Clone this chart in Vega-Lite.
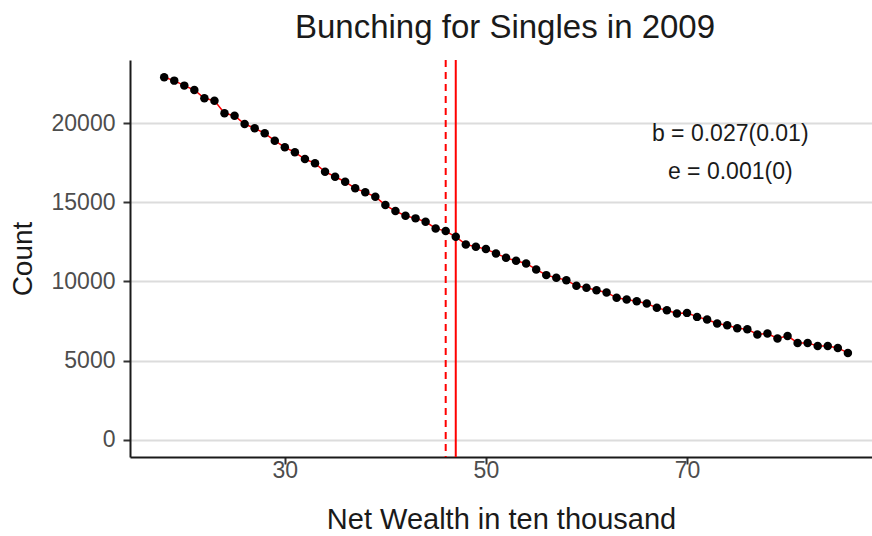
{
  "$schema": "https://vega.github.io/schema/vega-lite/v6.json",
  "width": 742,
  "height": 397,
  "autosize": "none",
  "padding": {"left": 130, "top": 60, "right": 0, "bottom": 79},
  "background": "white",
  "title": {"text": "Bunching for Singles in 2009", "fontSize": 33, "font": "Liberation Sans", "fontWeight": "normal", "color": "#1a1a1a", "anchor": "middle", "offset": 14, "dx": 4},
  "config": {
    "view": {"stroke": null},
    "axis": {
      "labelFont": "Liberation Sans", "titleFont": "Liberation Sans",
      "labelFontSize": 23, "labelColor": "#4D4D4D",
      "titleFontSize": 28, "titleFontWeight": "normal", "titleColor": "#1a1a1a",
      "domainColor": "#1a1a1a", "domainWidth": 2,
      "tickColor": "#333333", "tickWidth": 2, "tickSize": 7
    }
  },
  "datasets": {
    "bins": [
      {"x": 18, "count": 22911}, {"x": 19, "count": 22696}, {"x": 20, "count": 22380}, {"x": 21, "count": 22107},
      {"x": 22, "count": 21582}, {"x": 23, "count": 21430}, {"x": 24, "count": 20633}, {"x": 25, "count": 20481},
      {"x": 26, "count": 19955}, {"x": 27, "count": 19683}, {"x": 28, "count": 19367}, {"x": 29, "count": 18898},
      {"x": 30, "count": 18481}, {"x": 31, "count": 18164}, {"x": 32, "count": 17740}, {"x": 33, "count": 17468},
      {"x": 34, "count": 16936}, {"x": 35, "count": 16620}, {"x": 36, "count": 16303}, {"x": 37, "count": 15886},
      {"x": 38, "count": 15633}, {"x": 39, "count": 15354}, {"x": 40, "count": 14829}, {"x": 41, "count": 14449},
      {"x": 42, "count": 14151}, {"x": 43, "count": 13987}, {"x": 44, "count": 13772}, {"x": 45, "count": 13354},
      {"x": 46, "count": 13183}, {"x": 47, "count": 12823}, {"x": 48, "count": 12342}, {"x": 49, "count": 12190},
      {"x": 50, "count": 12044}, {"x": 51, "count": 11772}, {"x": 52, "count": 11493}, {"x": 53, "count": 11303},
      {"x": 54, "count": 11139}, {"x": 55, "count": 10759}, {"x": 56, "count": 10399}, {"x": 57, "count": 10228},
      {"x": 58, "count": 10082}, {"x": 59, "count": 9721}, {"x": 60, "count": 9595}, {"x": 61, "count": 9449},
      {"x": 62, "count": 9304}, {"x": 63, "count": 8962}, {"x": 64, "count": 8861}, {"x": 65, "count": 8753},
      {"x": 66, "count": 8607}, {"x": 67, "count": 8329}, {"x": 68, "count": 8183}, {"x": 69, "count": 7975},
      {"x": 70, "count": 8012}, {"x": 71, "count": 7759}, {"x": 72, "count": 7595}, {"x": 73, "count": 7342},
      {"x": 74, "count": 7234}, {"x": 75, "count": 7045}, {"x": 76, "count": 6981}, {"x": 77, "count": 6645},
      {"x": 78, "count": 6709}, {"x": 79, "count": 6392}, {"x": 80, "count": 6557}, {"x": 81, "count": 6114},
      {"x": 82, "count": 6114}, {"x": 83, "count": 5924}, {"x": 84, "count": 5924}, {"x": 85, "count": 5797},
      {"x": 86, "count": 5481}
    ],
    "cuts": [
      {"cut": 46, "kind": "dashed"},
      {"cut": 47, "kind": "solid"}
    ],
    "notes": [
      {"x": 74.3, "y": 19310, "label": "b = 0.027(0.01)"},
      {"x": 74.3, "y": 16910, "label": "e = 0.001(0)"}
    ]
  },
  "layer": [
    {
      "data": {"name": "bins"},
      "mark": {"type": "line", "color": "#FF0000", "strokeWidth": 1.5},
      "encoding": {
        "x": {"field": "x", "type": "quantitative", "scale": {"domain": [14.6, 88.4], "nice": false, "zero": false},
              "axis": {"values": [30, 50, 70], "grid": false, "title": "Net Wealth in ten thousand", "titleFontSize": 29, "labelPadding": -5, "titlePadding": 23}},
        "y": {"field": "count", "type": "quantitative", "scale": {"domain": [-1100, 24000], "nice": false, "zero": false},
              "axis": {"values": [0, 5000, 10000, 15000, 20000], "format": "d", "grid": true, "gridColor": "#DCDCDC", "gridWidth": 1.8, "title": "Count", "labelPadding": 8, "titlePadding": 14}}
      }
    },
    {
      "data": {"name": "cuts"},
      "mark": {"type": "rule", "color": "#FF0000", "strokeWidth": 2},
      "encoding": {
        "x": {"field": "cut", "type": "quantitative"},
        "strokeDash": {"field": "kind", "type": "nominal", "scale": {"domain": ["dashed", "solid"], "range": [[7, 5], [1, 0]]}, "legend": null}
      }
    },
    {
      "data": {"name": "bins"},
      "mark": {"type": "circle", "color": "black", "size": 72, "opacity": 1},
      "encoding": {
        "x": {"field": "x", "type": "quantitative"},
        "y": {"field": "count", "type": "quantitative"}
      }
    },
    {
      "data": {"name": "notes"},
      "mark": {"type": "text", "font": "Liberation Sans", "fontSize": 23, "color": "#1a1a1a", "align": "center", "baseline": "middle"},
      "encoding": {
        "x": {"field": "x", "type": "quantitative"},
        "y": {"field": "y", "type": "quantitative"},
        "text": {"field": "label"}
      }
    }
  ]
}
